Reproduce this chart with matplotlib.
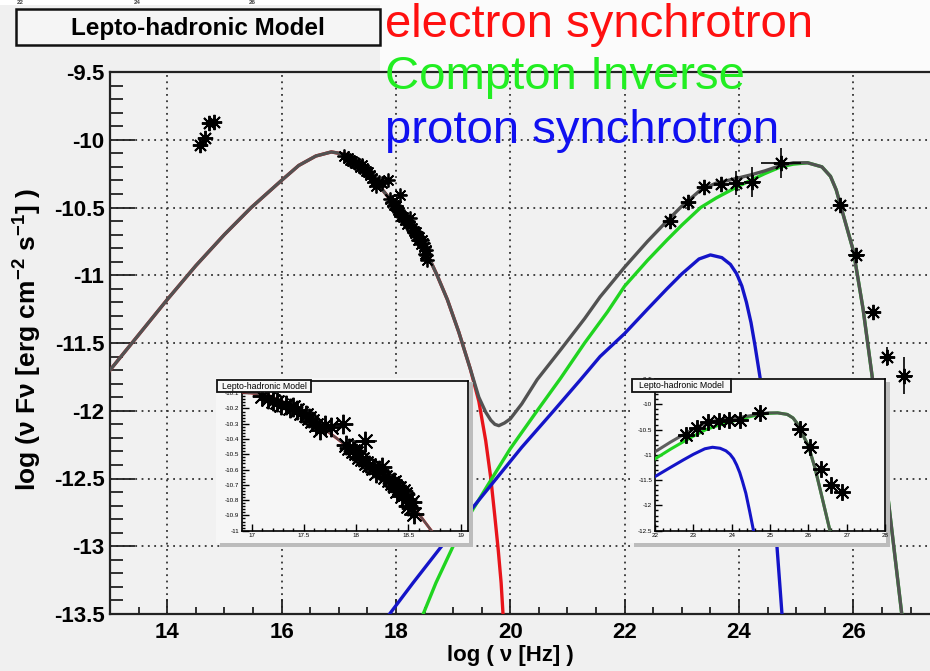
import matplotlib
matplotlib.use("Agg")
import matplotlib.pyplot as plt
from matplotlib.patches import Rectangle
from matplotlib.ticker import MultipleLocator, FuncFormatter

# --- model curves: log(nu) vs log(nu F_nu) ---
sync_x = [13.0, 13.5, 14.0, 14.5, 15.0, 15.47, 16.0, 16.3, 16.6, 16.87, 17.15, 17.4, 17.65, 17.9,
          18.1, 18.3, 18.5, 18.72, 18.9, 19.1, 19.3, 19.45, 19.57, 19.66, 19.73, 19.79, 19.84, 19.88]
sync_y = [-11.70, -11.44, -11.18, -10.93, -10.70, -10.50, -10.30, -10.19, -10.12, -10.09, -10.11, -10.19,
          -10.31, -10.44, -10.55, -10.67, -10.80, -11.00, -11.18, -11.42, -11.69, -11.93, -12.22, -12.50,
          -12.78, -13.03, -13.27, -13.55]

ic_x = [18.40, 18.7, 19.0, 19.3, 19.62, 20.0, 20.47, 20.88, 21.3, 21.7, 22.0, 22.4, 22.74, 23.0, 23.33,
        23.6, 23.91, 24.2, 24.45, 24.73, 24.95, 25.2, 25.45, 25.6, 25.7, 25.8, 26.0, 26.17, 26.32, 26.58, 26.86]
ic_y = [-13.58, -13.27, -13.0, -12.76, -12.54, -12.28, -12.0, -11.76, -11.50, -11.27, -11.08, -10.89, -10.74,
        -10.63, -10.50, -10.43, -10.36, -10.30, -10.25, -10.20, -10.18, -10.17, -10.20, -10.27, -10.37,
        -10.52, -10.82, -11.25, -11.72, -12.55, -13.55]

psyn_x = [17.80, 18.3, 18.78, 19.2, 19.68, 20.2, 20.76, 21.23, 21.57, 22.0, 22.4, 22.74, 23.0, 23.3, 23.5,
          23.7, 23.85, 23.96, 24.05, 24.13, 24.21, 24.28, 24.37, 24.47, 24.57, 24.66, 24.72, 24.76]
psyn_y = [-13.55, -13.27, -13.01, -12.79, -12.54, -12.27, -12.0, -11.77, -11.60, -11.43, -11.25, -11.10,
          -10.99, -10.88, -10.85, -10.87, -10.92, -10.99, -11.08, -11.20, -11.35, -11.52, -11.76, -12.12,
          -12.50, -12.98, -13.32, -13.55]

total_x = [13.0, 13.5, 14.0, 14.5, 15.0, 15.47, 16.0, 16.3, 16.6, 16.87, 17.15, 17.4, 17.65, 17.9,
           18.1, 18.3, 18.5, 18.72, 18.9, 19.1, 19.3, 19.45, 19.57, 19.66, 19.73, 19.80, 19.9, 20.0, 20.2,
           20.47, 20.88, 21.3, 21.57, 22.0, 22.4, 22.74, 23.0, 23.33, 23.6, 23.91, 24.2, 24.45, 24.73,
           24.95, 25.2, 25.45, 25.6, 25.7, 25.8, 26.0, 26.17, 26.32, 26.58, 26.86]
total_y = [-11.70, -11.44, -11.18, -10.93, -10.70, -10.50, -10.30, -10.19, -10.12, -10.09, -10.11, -10.19,
           -10.31, -10.44, -10.55, -10.67, -10.80, -11.00, -11.18, -11.42, -11.69, -11.90, -12.01, -12.07,
           -12.10, -12.11, -12.09, -12.06, -11.95, -11.77, -11.55, -11.32, -11.16, -10.94, -10.75, -10.60,
           -10.49, -10.37, -10.32, -10.29, -10.26, -10.23, -10.19, -10.17, -10.17, -10.20, -10.27, -10.37,
           -10.52, -10.82, -11.25, -11.72, -12.55, -13.55]

# --- observations ---
opt_x = [14.58, 14.66, 14.74, 14.82]
opt_y = [-10.04, -9.99, -9.88, -9.87]

xray_x = [17.10, 17.16, 17.20, 17.24, 17.28, 17.33, 17.37, 17.40, 17.43, 17.47, 17.52, 17.55, 17.58,
          17.62, 17.65, 17.70, 17.76, 17.87, 17.90, 17.93, 17.97, 18.00, 18.03, 18.06, 18.08, 18.09,
          18.12, 18.16, 18.19, 18.22, 18.25, 18.28, 18.31, 18.34, 18.36, 18.37, 18.39, 18.41, 18.44,
          18.45, 18.47, 18.49, 18.50, 18.52, 18.53, 18.55]
xray_y = [-10.12, -10.135, -10.15, -10.155, -10.175, -10.18, -10.20, -10.19, -10.21, -10.23, -10.24,
          -10.26, -10.28, -10.31, -10.34, -10.31, -10.32, -10.30, -10.44, -10.46, -10.48, -10.49, -10.52,
          -10.53, -10.41, -10.56, -10.57, -10.59, -10.62, -10.60, -10.58, -10.65, -10.67, -10.69, -10.68,
          -10.71, -10.74, -10.72, -10.77, -10.74, -10.76, -10.79, -10.84, -10.85, -10.81, -10.89]
xray_xerr = [0.0] * 17 + [0.05] + [0.0] * 6 + [0.12] + [0.0] * 21

gam_x = [22.80, 23.10, 23.39, 23.68, 23.94, 24.23, 24.73, 25.77, 26.05, 26.34, 26.59, 26.89]
gam_y = [-10.60, -10.46, -10.35, -10.33, -10.32, -10.31, -10.17, -10.48, -10.85, -11.27, -11.60, -11.74]
gam_xerr = [0, 0, 0, 0, 0, 0.15, 0.35, 0.12, 0.15, 0.13, 0.10, 0.15]
gam_yerr = [0, 0, 0, 0, 0.09, 0.11, 0.11, 0, 0, 0, 0.07, 0.14]

legend_labels = ["electron synchrotron", "Compton Inverse", "proton synchrotron"]
legend_colors = ["#ff1010", "#22ee22", "#1010f0"]
top_labels = ["22", "24", "26"]

C_SYN, C_IC, C_PSYN, C_TOT = "#e8141a", "#20d420", "#1414c8", "#525252"
STAR = (8, 2, 0)

plt.rcParams["font.family"] = ["Liberation Sans", "DejaVu Sans"]
plt.rcParams["mathtext.fontset"] = "custom"
plt.rcParams["mathtext.rm"] = "Liberation Sans:bold"
plt.rcParams["mathtext.bf"] = "Liberation Sans:bold"
plt.rcParams["axes.unicode_minus"] = False

W, H = 930, 671
fig = plt.figure(figsize=(W / 100, H / 100), dpi=100, facecolor="#f0f0f0")


def px_box(x0, y0, x1, y1):
    return [x0 / W, 1 - y1 / H, (x1 - x0) / W, (y1 - y0) / H]


def px_rect(x0, y0, x1, y1, **kw):
    r = Rectangle((x0 / W, 1 - y1 / H), (x1 - x0) / W, (y1 - y0) / H,
                  transform=fig.transFigure, **kw)
    fig.patches.append(r)
    return r


fmt = FuncFormatter(lambda v, p: "%g" % round(v, 3))

# page background pieces
px_rect(0, 0, W, 5, facecolor="white", edgecolor="none", zorder=-2)
px_rect(380, 0, W, 72, facecolor="#fbfbfb", edgecolor="none", zorder=-2)
for lab, xc in zip(top_labels, [20, 137, 252]):
    fig.text(xc / W, 1 - 4.5 / H, lab, ha="center", va="baseline", fontsize=4.5,
             fontweight="bold", color="#444444")

# ---------------- main panel ----------------
ax = fig.add_axes(px_box(110, 72, 930, 614))
ax.set_facecolor("#f1f1f1")
ax.set_xlim(13, 27.34)
ax.set_ylim(-13.5, -9.5)

ax.plot(sync_x, sync_y, color=C_SYN, lw=2.4, zorder=3)
ax.plot(ic_x, ic_y, color=C_IC, lw=2.4, zorder=3)
ax.plot(psyn_x, psyn_y, color=C_PSYN, lw=2.4, zorder=3)
ax.plot(total_x, total_y, color=C_TOT, lw=2.4, zorder=4)

ax.plot(opt_x, opt_y, ls="none", marker=STAR, ms=11, mew=1.4, color="black", zorder=5)
ax.errorbar(xray_x, xray_y, xerr=xray_xerr, fmt="none", ecolor="black", elinewidth=1.1, zorder=5)
ax.plot(xray_x, xray_y, ls="none", marker=STAR, ms=10, mew=1.3, color="black", zorder=5)
ax.errorbar(gam_x, gam_y, xerr=gam_xerr, yerr=gam_yerr, fmt="none", ecolor="black",
            elinewidth=1.2, zorder=5)
ax.plot(gam_x, gam_y, ls="none", marker=STAR, ms=11, mew=1.4, color="black", zorder=5)

ax.xaxis.set_major_locator(MultipleLocator(2))
ax.xaxis.set_minor_locator(MultipleLocator(0.5))
ax.yaxis.set_major_locator(MultipleLocator(0.5))
ax.yaxis.set_minor_locator(MultipleLocator(0.1))
ax.xaxis.set_major_formatter(fmt)
ax.yaxis.set_major_formatter(fmt)
ax.tick_params(axis="both", which="both", direction="in", color="#222222", width=1.3,
               labelsize=16)
ax.tick_params(axis="y", which="major", length=18, pad=4)
ax.tick_params(axis="y", which="minor", length=9.5)
ax.tick_params(axis="x", which="major", length=11, pad=6)
ax.tick_params(axis="x", which="minor", length=5)
for lab in ax.get_xticklabels() + ax.get_yticklabels():
    lab.set_fontweight("bold")
ax.grid(True, which="major", color="#333333", linestyle=(0, (1, 2.5)), lw=1.3)
ax.set_axisbelow(True)
for side in ["left", "bottom", "top"]:
    ax.spines[side].set_linewidth(1.6)
    ax.spines[side].set_color("#222222")
ax.spines["right"].set_visible(False)

fig.text(27 / W, 1 - 340 / H, "log (ν Fν [erg cm$^{-2}$ s$^{-1}$] )", rotation=90,
         ha="center", va="center", fontsize=19, fontweight="bold")
fig.text(510 / W, 1 - 655 / H, "log ( ν [Hz] )", ha="center", va="center",
         fontsize=16, fontweight="bold")

# title box
px_rect(16, 9, 380, 45, facecolor="#f5f5f5", edgecolor="#111111", lw=1.8, zorder=8)
fig.text(198 / W, 1 - 28 / H, "Lepto-hadronic Model", ha="center", va="center",
         fontsize=17.5, fontweight="bold", zorder=9)


# ---------------- zoomed panels ----------------
def inset(pad_px, frame_px, xlim, ylim, xmaj, xmin, ymaj, ymin, title_px):
    x0, y0, x1, y1 = pad_px
    px_rect(x0 + 4, y0 + 4, x1 + 4, y1 + 4, facecolor="#bcbcbc", edgecolor="none", zorder=5)
    px_rect(x0, y0, x1, y1, facecolor="#f6f6f6", edgecolor="none", zorder=5.5)
    ia = fig.add_axes(px_box(*frame_px), zorder=6)
    ia.set_facecolor("#f6f6f6")
    ia.set_xlim(*xlim)
    ia.set_ylim(*ylim)
    ia.xaxis.set_major_locator(MultipleLocator(xmaj))
    ia.xaxis.set_minor_locator(MultipleLocator(xmin))
    ia.yaxis.set_major_locator(MultipleLocator(ymaj))
    ia.yaxis.set_minor_locator(MultipleLocator(ymin))
    ia.xaxis.set_major_formatter(fmt)
    ia.yaxis.set_major_formatter(fmt)
    ia.tick_params(axis="both", which="both", direction="in", width=1.0, labelsize=4.5, pad=2)
    ia.tick_params(axis="both", which="major", length=5)
    ia.tick_params(axis="both", which="minor", length=2.5)
    for s in ia.spines.values():
        s.set_linewidth(1.2)
    tx0, ty0, tx1, ty1 = title_px
    px_rect(tx0, ty0, tx1, ty1, facecolor="#f8f8f8", edgecolor="#111111", lw=1.3, zorder=7)
    fig.text((tx0 + tx1) / 2 / W, 1 - (ty0 + ty1) / 2 / H, "Lepto-hadronic Model",
             ha="center", va="center", fontsize=6.3, zorder=7.5)
    return ia


ax_x = inset((216, 378, 469, 543), (241.7, 381, 468, 530.7), (16.905, 19.07), (-11.0, -10.02),
             0.5, 0.1, 0.1, 0.02, (217, 380, 311, 392))
ax_x.plot(sync_x, sync_y, color=C_SYN, lw=2.0, zorder=3)
ax_x.plot(total_x, total_y, color=C_TOT, lw=1.8, alpha=0.9, zorder=4)
ax_x.errorbar(xray_x, xray_y, xerr=xray_xerr, fmt="none", ecolor="black", elinewidth=1.1, zorder=5)
ax_x.plot(xray_x, xray_y, ls="none", marker=STAR, ms=14, mew=1.4, color="black", zorder=5)

ax_g = inset((630, 378, 886, 543), (655, 379, 885, 530.7), (22, 28), (-12.5, -9.5),
             1, 0.2, 0.5, 0.1, (632, 379, 731, 392))
ax_g.plot(ic_x, ic_y, color=C_IC, lw=2.2, zorder=3)
ax_g.plot(psyn_x, psyn_y, color=C_PSYN, lw=2.2, zorder=3)
ax_g.plot(total_x, total_y, color=C_TOT, lw=2.2, alpha=0.92, zorder=4)
ax_g.plot(gam_x, gam_y, ls="none", marker=STAR, ms=12, mew=1.4, color="black", zorder=5)

# colour key written over the top of the page
for lab, col, base in zip(legend_labels, legend_colors, [37, 89, 143]):
    fig.text(385 / W, 1 - base / H, lab, color=col, fontsize=34,
             ha="left", va="baseline", zorder=20)

fig.savefig("out.png", dpi=100, facecolor=fig.get_facecolor())
